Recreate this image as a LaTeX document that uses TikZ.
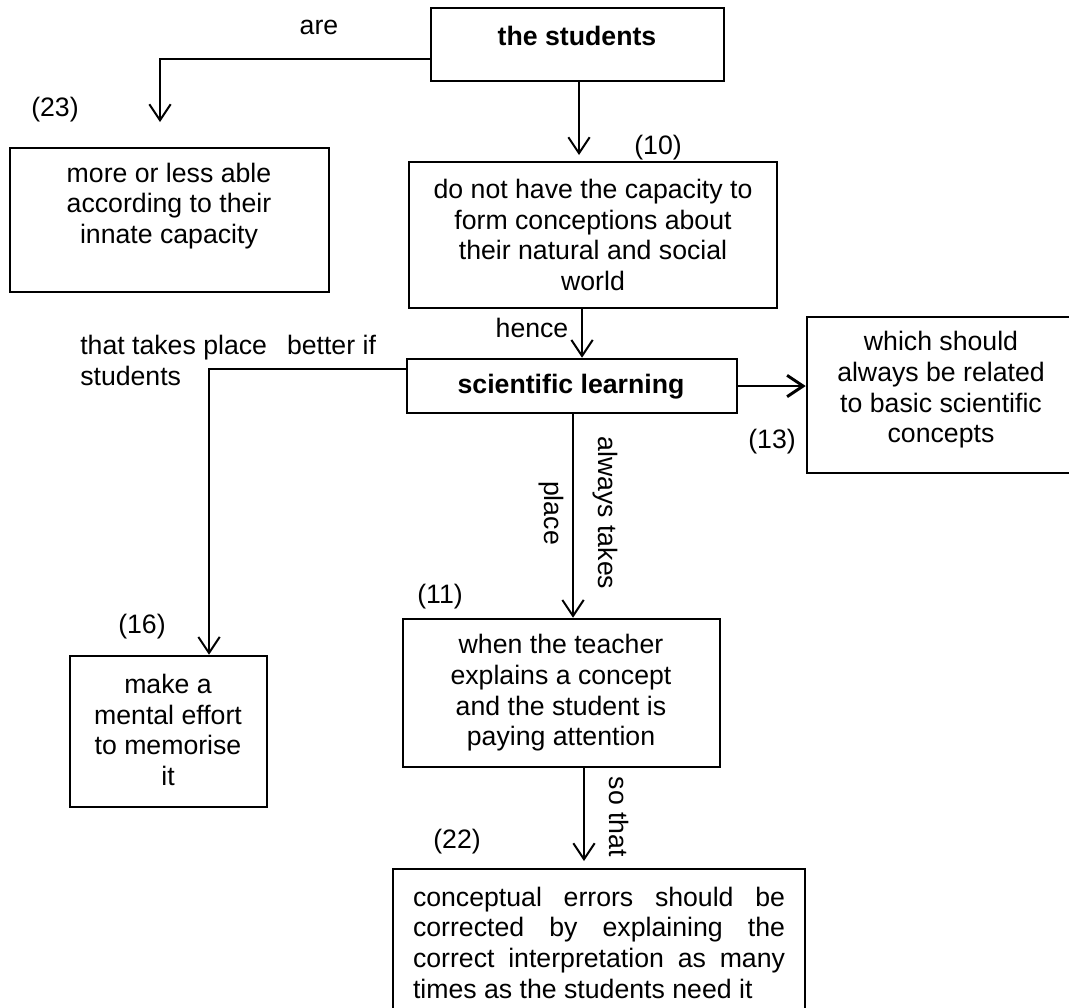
\documentclass[tikz,border=0pt]{standalone}
\usepackage{fontspec}
\setmainfont{Liberation Sans}
\usetikzlibrary{arrows.meta}
\begin{document}
\begin{tikzpicture}[x=0.75pt,y=-0.75pt,
  box/.style={draw, line width=1.9pt, inner sep=0pt},
  txt/.style={inner sep=0pt, align=center, font=\fontsize{20}{23}\selectfont},
  lbl/.style={inner sep=0pt, font=\fontsize{20}{23}\selectfont},
  conn/.style={line width=1.5pt},
  arr/.style={conn, -{Straight Barb[length=12pt,width=16pt]}},
]
\useasboundingbox[fill=white] (0,0) rectangle (1069,1007);

% concept boxes
\node[box, minimum width=219.75pt, minimum height=54.75pt] (students) at (577.5,44.5) {};
\node[box, minimum width=239.25pt, minimum height=108pt]   (b23) at (169.5,220) {};
\node[box, minimum width=276pt,    minimum height=109.5pt] (b10) at (593,235) {};
\node[box, minimum width=247.5pt,  minimum height=40.5pt]  (sci) at (572,386) {};
\node[box, minimum width=206.25pt, minimum height=117pt]   (b13) at (944.5,395) {};
\node[box, minimum width=147.75pt, minimum height=113.25pt] (b16) at (168.5,731.5) {};
\node[box, minimum width=237.75pt, minimum height=111pt]   (b11) at (561.5,693) {};
\node[box, minimum width=309pt,    minimum height=112.5pt] (b22) at (599,944) {};

% box texts
\node[txt, font=\fontsize{20}{23}\selectfont\bfseries] (studentsT) at (577,36) {the students};
\node[txt] (b23T) at (169,206) {more or less able\\according to their\\innate capacity};
\node[txt] (b10T) at (593,235) {do not have the capacity to\\form conceptions about\\their natural and social\\world};
\node[txt, font=\fontsize{20}{23}\selectfont\bfseries] (sciT) at (571,387) {scientific learning};
\node[txt] (b13T) at (941,390) {which should\\always be related\\to basic scientific\\concepts};
\node[txt] (b16T) at (168,730) {make a\\mental effort\\to memorise\\it};
\node[txt] (b11T) at (561,693) {when the teacher\\explains a concept\\and the student is\\paying attention};
\node[txt, text width=279pt, align=justify] (b22T) at (599,942.5)
  {\hyphenpenalty=10000 conceptual errors should be\linebreak corrected by explaining the\linebreak correct interpretation as many\linebreak times as the students need it};

% numbers
\node[lbl] (n23) at (55,110) {(23)};
\node[lbl] (n10) at (658,148) {(10)};
\node[lbl] (n13) at (772,442) {(13)};
\node[lbl] (n11) at (440,597) {(11)};
\node[lbl] (n16) at (142,627) {(16)};
\node[lbl] (n22) at (457,842) {(22)};

% free ends and bends of connectors
\coordinate (areRow) at (160,59);
\coordinate (areTip) at (160,122);
\coordinate (tenTip) at (579,155);
\coordinate (henceX) at (582,0);
\coordinate (leftCorner) at (209,369);
\coordinate (downX) at (573,0);
\coordinate (soTip) at (584,861);

% connectors
\draw[arr] (areRow -| students.west) -- (areRow) -- (areTip);
\draw[arr] (students.south -| tenTip) -- (tenTip);
\draw[arr] (b10.south -| henceX) -- (sci.north -| henceX);
\draw[arr, line width=2.2pt] (sci.east) -- (sci.east -| b13.west);
\draw[arr] (leftCorner -| sci.west) -- (leftCorner) -- (leftCorner |- b16.north);
\draw[arr] (sci.south -| downX) -- (b11.north -| downX);
\draw[arr] (b11.south -| soTip) -- (soTip);

% link labels
\node[lbl] (areL) at (319,27) {are};
\node[lbl] (henceL) at (532,328) {hence};
\node[lbl, align=left, anchor=west] (betterL) at (80,360.5) {that takes place\hspace{15pt}better if\\students};
\node[lbl, rotate=-90] (alwaysL) at (605,513) {always takes};
\node[lbl, rotate=-90] (placeL) at (551,513) {place};
\node[lbl, rotate=-90] (soL) at (619,817) {so that};
\end{tikzpicture}
\end{document}
